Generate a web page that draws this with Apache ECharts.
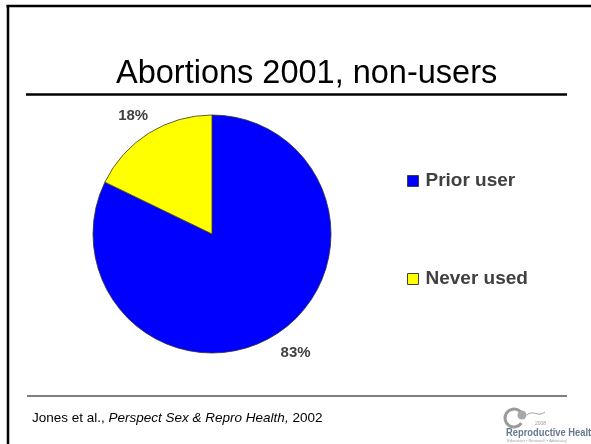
<!DOCTYPE html>
<html>
<head>
<meta charset="utf-8">
<script src="https://cdn.jsdelivr.net/npm/echarts@6/dist/echarts.min.js"></script>
<style>
html,body{margin:0;padding:0;background:#fff;}
#chart{width:591px;height:444px;}
</style>
</head>
<body>
<div id="chart"></div>
<script>
const categories = ['Prior user', 'Never used'];
const values = [83, 18];
const sliceColors = ['#0000FF', '#FFFF00'];
const titleText = 'Abortions 2001, non-users';

const chart = echarts.init(document.getElementById('chart'), null, {renderer: 'canvas'});
const FONT = '"Liberation Sans", Arial, sans-serif';
const labelTweaks = [
  {len: 21.5, dist: -6},
  {len: 20, dist: -10}
];

const option = {
  backgroundColor: '#ffffff',
  animation: false,
  title: [
    {
      text: titleText,
      left: 111,
      top: 53,
      textStyle: {fontFamily: FONT, fontSize: 32.5, fontWeight: 'normal', color: '#000'}
    },
    {
      text: '{n|Jones et al., }{i|Perspect Sex & Repro Health,}{n| 2002}',
      left: 27,
      top: 406,
      textStyle: {
        fontFamily: FONT, fontSize: 13.5, color: '#000', fontWeight: 'normal',
        rich: {
          n: {fontFamily: FONT, fontSize: 13.5, color: '#000'},
          i: {fontFamily: FONT, fontSize: 13.5, color: '#000', fontStyle: 'italic'}
        }
      }
    }
  ],
  legend: {
    orient: 'vertical',
    left: 402,
    top: 166,
    itemWidth: 11,
    itemHeight: 11,
    itemGap: 78,
    icon: 'rect',
    selectedMode: false,
    itemStyle: {borderColor: '#404040', borderWidth: 1},
    textStyle: {fontFamily: FONT, fontSize: 19, fontWeight: 'bold', color: '#404040', lineHeight: 20, padding: [0,0,0,2]},
    data: categories
  },
  series: [{
    type: 'pie',
    center: [212, 234],
    radius: 119,
    startAngle: 90,
    clockwise: true,
    avoidLabelOverlap: false,
    itemStyle: {borderColor: '#333333', borderWidth: 0.8},
    label: {
      show: true,
      position: 'outside',
      formatter: '{c}%',
      fontFamily: FONT,
      fontSize: 15,
      fontWeight: 'bold',
      color: '#404040'
    },
    labelLine: {show: false, length: 20, length2: 0},
    emphasis: {disabled: true},
    data: categories.map((name, i) => ({
      name: name,
      value: values[i],
      itemStyle: {color: sliceColors[i]},
      label: {distanceToLabelLine: labelTweaks[i].dist},
      labelLine: {show: false, length: labelTweaks[i].len, length2: 0}
    }))
  }],
  graphic: [
    {type: 'line', shape: {x1: 6.5, y1: 6, x2: 591, y2: 6}, style: {stroke: '#000', lineWidth: 2.5}},
    {type: 'line', shape: {x1: 8, y1: 5, x2: 8, y2: 444}, style: {stroke: '#000', lineWidth: 2.5}},
    {type: 'line', shape: {x1: 26, y1: 94.5, x2: 567, y2: 94.5}, style: {stroke: '#000', lineWidth: 2.5}},
    {type: 'line', shape: {x1: 27, y1: 396, x2: 567, y2: 396}, style: {stroke: '#000', lineWidth: 1}},
    {type: 'arc', shape: {cx: 514, cy: 418, r: 9, startAngle: 0.6, endAngle: 5.7}, style: {stroke: '#9a9a9a', lineWidth: 3, fill: null}},
    {type: 'circle', shape: {cx: 522, cy: 415, r: 4.5}, style: {fill: '#a8a8a8'}},
    {type: 'bezierCurve', shape: {x1: 527, y1: 415, x2: 545, y2: 412, cpx1: 533, cpy1: 409, cpx2: 538, cpy2: 418}, style: {stroke: '#a0a0a0', lineWidth: 1, fill: null}},
    {type: 'text', x: 535, y: 421, style: {text: '2008', font: '5px ' + FONT, fill: '#999'}},
    {type: 'text', x: 506, y: 427, scaleX: 0.85, style: {text: 'Reproductive Health', font: 'bold 11px ' + FONT, fill: '#667791'}},
    {type: 'text', x: 507, y: 439, style: {text: 'Education • Research • Advocacy', font: '4px ' + FONT, fill: '#9aa4b4'}}
  ]
};
chart.setOption(option);
</script>
</body>
</html>
